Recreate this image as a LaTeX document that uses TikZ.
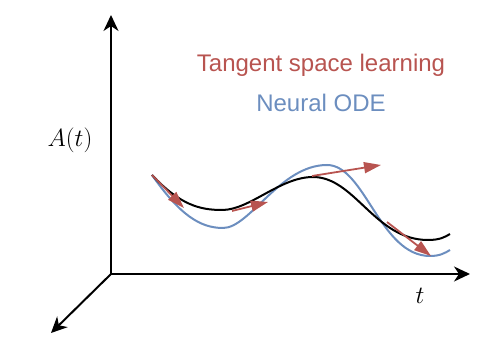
\documentclass[tikz,border=0pt]{standalone}
\usepackage{fontspec}
\newfontfamily\labelfont{Liberation Sans}
\usetikzlibrary{arrows.meta}
\definecolor{myred}{HTML}{B85450}
\definecolor{myblue}{HTML}{6C8EBF}
\tikzset{
  axis/.style={line width=2pt,-{Stealth[length=16pt,width=15pt,inset=5pt]}},
  tangent/.style={myred,line width=1.8pt,-{Triangle[length=17pt,width=11pt]}},
  curveblack/.style={black,line width=2pt},
  curveblue/.style={myblue,line width=2pt},
  legend/.style={font=\labelfont\fontsize{24}{28}\selectfont,anchor=base},
  mathlbl/.style={font=\fontsize{24}{28}\selectfont,anchor=base,inner sep=0pt}
}
\begin{document}
\begin{tikzpicture}[x=1pt,y=-1pt]
\useasboundingbox (0,0) rectangle (488,352);
% axes
\coordinate (O) at (111,274);
\coordinate (Ytop) at (111,15);
\coordinate (Xend) at (470,274);
\coordinate (Zend) at (51,333);
\draw[axis] (O) -- (Ytop);
\draw[axis] (O) -- (Xend);
\draw[axis] (O) -- (Zend);
% labels
\node[mathlbl] (alabel) at (70,147) {$A(t)$};
\node[mathlbl] (tlabel) at (420,304) {$t$};
\node[legend,text=myred] (tsl) at (321,72) {Tangent space learning};
\node[legend,text=myblue] (node) at (321,112) {Neural ODE};
% blue curve (Neural ODE)
\draw[curveblue] (152,175) .. controls (180,215) and (200,228) .. (223,228)
  .. controls (250,228) and (280,165) .. (327,165)
  .. controls (365,165) and (380,256) .. (430,256)
  .. controls (440,256) and (445,253) .. (450,250);
% black curve
\draw[curveblack] (152,175) .. controls (180,205) and (200,210) .. (222,210)
  .. controls (250,210) and (280,177) .. (313,177)
  .. controls (355,177) and (375,240) .. (428,240)
  .. controls (440,240) and (445,237) .. (450,234);
% tangent arrows
\coordinate (a1s) at (152,175); \coordinate (a1e) at (184,208);
\coordinate (a2s) at (232,211); \coordinate (a2e) at (268,202);
\coordinate (a3s) at (312,176); \coordinate (a3e) at (381,165);
\coordinate (a4s) at (387,222); \coordinate (a4e) at (431,256);
\draw[tangent] (a1s) -- (a1e);
\draw[tangent] (a2s) -- (a2e);
\draw[tangent] (a3s) -- (a3e);
\draw[tangent] (a4s) -- (a4e);
\end{tikzpicture}
\end{document}
